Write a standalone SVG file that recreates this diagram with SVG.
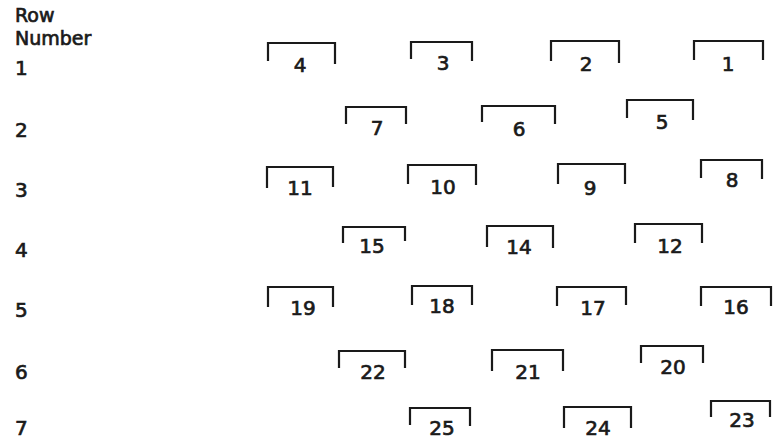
<svg xmlns="http://www.w3.org/2000/svg" width="773" height="440" viewBox="0 0 773 440">
<style>
.t{font-family:"DejaVu Sans","Liberation Sans",Arial,sans-serif;font-size:20px;fill:#1a1a1a;stroke:#1a1a1a;stroke-width:0.7}
.l{font-size:19px}
.n{text-anchor:middle}
.b{fill:none;stroke:#1a1a1a;stroke-width:2.2;stroke-linecap:square}
</style>
<rect width="773" height="440" fill="#ffffff"/>
<g id="row-labels" class="t">
<text class="l" x="15" y="22">Row</text>
<text class="l" x="15" y="45">Number</text>
<text x="15" y="75">1</text>
<text x="15" y="137">2</text>
<text x="15" y="197">3</text>
<text x="15" y="257">4</text>
<text x="15" y="317">5</text>
<text x="15" y="379">6</text>
<text x="15" y="435">7</text>
</g>
<g id="connectors"></g>
<g id="n4"><path class="b" d="M268,60V43H335V63"/><text class="t n" x="300" y="72">4</text></g>
<g id="n3"><path class="b" d="M411,58V42H472V60"/><text class="t n" x="443" y="70">3</text></g>
<g id="n2"><path class="b" d="M551,60V41H619V62"/><text class="t n" x="586" y="71">2</text></g>
<g id="n1"><path class="b" d="M694,59V41H763V59"/><text class="t n" x="728" y="71">1</text></g>
<g id="n7"><path class="b" d="M346,123V107H406V123"/><text class="t n" x="377" y="135">7</text></g>
<g id="n6"><path class="b" d="M482,121V106H555V123"/><text class="t n" x="519" y="136">6</text></g>
<g id="n5"><path class="b" d="M627,117V100H693V119"/><text class="t n" x="662" y="129">5</text></g>
<g id="n11"><path class="b" d="M267,187V167H333V186"/><text class="t n" x="300" y="195">11</text></g>
<g id="n10"><path class="b" d="M408,183V165H476V184"/><text class="t n" x="443" y="194">10</text></g>
<g id="n9"><path class="b" d="M558,183V164H625V183"/><text class="t n" x="590" y="195">9</text></g>
<g id="n8"><path class="b" d="M701,177V160H762V178"/><text class="t n" x="732" y="187">8</text></g>
<g id="n15"><path class="b" d="M343,242V227H405V240"/><text class="t n" x="372" y="253">15</text></g>
<g id="n14"><path class="b" d="M487,246V226H553V247"/><text class="t n" x="519" y="254">14</text></g>
<g id="n12"><path class="b" d="M635,242V224H702V242"/><text class="t n" x="670" y="253">12</text></g>
<g id="n19"><path class="b" d="M268,306V287H333V306"/><text class="t n" x="303" y="315">19</text></g>
<g id="n18"><path class="b" d="M412,304V286H472V304"/><text class="t n" x="442" y="313">18</text></g>
<g id="n17"><path class="b" d="M557,305V287H626V304"/><text class="t n" x="593" y="315">17</text></g>
<g id="n16"><path class="b" d="M701,305V287H771V305"/><text class="t n" x="736" y="314">16</text></g>
<g id="n22"><path class="b" d="M339,367V351H405V367"/><text class="t n" x="373" y="379">22</text></g>
<g id="n21"><path class="b" d="M492,370V350H563V370"/><text class="t n" x="528" y="379">21</text></g>
<g id="n20"><path class="b" d="M641,362V346H703V362"/><text class="t n" x="673" y="374">20</text></g>
<g id="n25"><path class="b" d="M410,424V408H470V425"/><text class="t n" x="442" y="435">25</text></g>
<g id="n24"><path class="b" d="M564,427V407H631V427"/><text class="t n" x="598" y="435">24</text></g>
<g id="n23"><path class="b" d="M711,416V401H770V416"/><text class="t n" x="742" y="427">23</text></g>
</svg>
